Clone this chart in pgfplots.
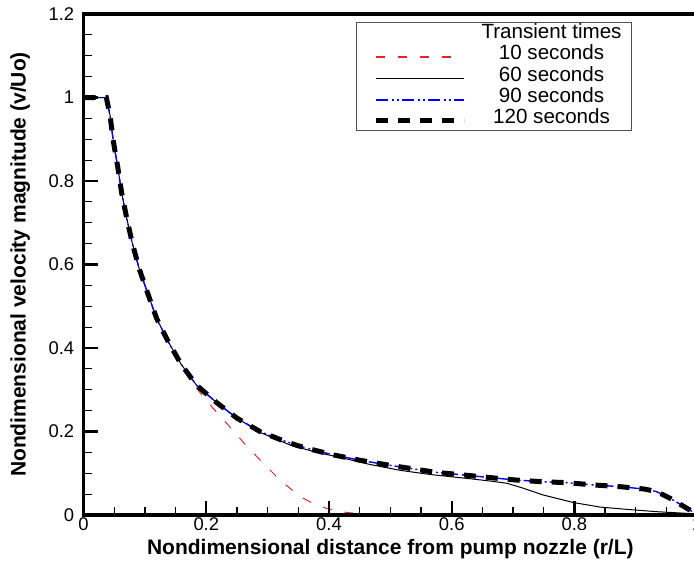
\documentclass[border=0pt]{standalone}
\usepackage{fontspec}
\setmainfont{Liberation Sans}
\usepackage{pgfplots}
\pgfplotsset{compat=1.18}
\definecolor{tenred}{RGB}{220,40,40}
\definecolor{ninetyblue}{RGB}{0,0,255}
\definecolor{legframe}{RGB}{80,80,80}

\begin{document}
\begin{tikzpicture}
\begin{axis}[
  scale only axis,
  width=306.75pt, height=250.5pt,
  xmin=0, xmax=1, ymin=0, ymax=1.2,
  xtick={0,0.2,0.4,0.6,0.8,1},
  ytick={0,0.2,0.4,0.6,0.8,1,1.2},
  minor x tick num=3, minor y tick num=3,
  xtick pos=bottom, ytick pos=left,
  tick align=inside,
  major tick length=7pt, minor tick length=4pt,
  tick style={black},
  every major tick/.append style={line width=1.1pt},
  every minor tick/.append style={line width=0.6pt},
  axis line style={line width=1.8pt},
  axis on top,
  /pgf/number format/assume math mode=true,
  tick label style={font=\fontsize{9.2}{11}\selectfont},
  xticklabel style={inner sep=0pt, yshift=-1.2pt},
  yticklabel style={inner sep=0pt, xshift=-4.5pt},
  every axis x label/.style={at={(axis description cs:0.5,-0.0798)}, anchor=base,
    inner sep=0pt, font=\bfseries\fontsize{10.5}{12}\selectfont},
  every axis y label/.style={at={(axis description cs:-0.0864,0.5)}, rotate=90,
    anchor=south, inner sep=0pt, font=\bfseries\fontsize{10.5}{12}\selectfont},
  xlabel={Nondimensional distance from pump nozzle (r/L)},
  ylabel={Nondimensional velocity magnitude (v/Uo)},
  legend cell align=center,
  legend image code/.code={\path (0pt,0pt); \draw[#1] (3.5pt,-1pt) -- (47.5pt,-1pt);},
  legend style={at={(axis description cs:0.894,0.984)}, anchor=north east,
    draw=legframe, line width=0.5pt, fill=white,
    inner xsep=5pt, inner ysep=0.5pt, row sep=0pt, column sep=7.4pt,
    font=\fontsize{10.3}{12}\selectfont,
    nodes={inner sep=0pt, text height=7.6pt, text depth=3pt}},
]
% legend: title row and one sample per series
\addlegendimage{empty legend}
\addlegendentry{Transient times}
\addlegendimage{draw=tenred, line width=0.9pt, dash pattern=on 4.5pt off 6.5pt}
\addlegendentry{10 seconds}
\addlegendimage{draw=black, line width=0.6pt}
\addlegendentry{60 seconds}
\addlegendimage{draw=ninetyblue, line width=0.9pt, dash pattern=on 6pt off 2pt on 1pt off 1.5pt on 1pt off 1.5pt}
\addlegendentry{90 seconds}
\addlegendimage{draw=black, line width=2.5pt, dash pattern=on 6pt off 5pt}
\addlegendentry{120 seconds}

% 10 seconds
\addplot[forget plot, draw=tenred, line width=0.5pt, dash pattern=on 4.5pt off 6.5pt] coordinates {
 (0,1.0) (0.037,1.0) (0.043,0.958) (0.0484,0.896) (0.0556,0.834) (0.0621,0.771)
 (0.0703,0.711) (0.0794,0.651) (0.0908,0.589) (0.1045,0.531) (0.119,0.471)
 (0.138,0.415) (0.159,0.361) (0.173,0.325) (0.190,0.293) (0.206,0.264)
 (0.233,0.220) (0.263,0.170) (0.290,0.128) (0.320,0.084) (0.353,0.044)
 (0.375,0.027) (0.396,0.016) (0.429,0.006) (0.460,0.002) (0.50,0.0) (1.0,0.0)
};

% 60 seconds
\addplot[forget plot, draw=black, line width=0.5pt] coordinates {
 (0,1.0) (0.037,1.0) (0.043,0.958) (0.0484,0.896) (0.0556,0.834) (0.0621,0.771)
 (0.0703,0.711) (0.0794,0.651) (0.0908,0.589) (0.1045,0.531) (0.119,0.471)
 (0.138,0.415) (0.159,0.361) (0.184,0.311) (0.217,0.269) (0.250,0.232)
 (0.2875,0.198) (0.336,0.168) (0.380,0.150) (0.418,0.138) (0.467,0.121)
 (0.516,0.107) (0.565,0.097) (0.597,0.092) (0.635,0.086) (0.665,0.081)
 (0.690,0.076) (0.717,0.064) (0.749,0.048) (0.798,0.030) (0.842,0.019)
 (0.885,0.0136) (0.934,0.008) (0.983,0.004) (1.0,0.0)
};

% 90 seconds
\addplot[forget plot, draw=ninetyblue, line width=0.7pt, dash pattern=on 6pt off 2pt on 1pt off 1.5pt on 1pt off 1.5pt] coordinates {
 (0,1.0) (0.037,1.0) (0.043,0.958) (0.0484,0.896) (0.0556,0.834) (0.0621,0.771)
 (0.0703,0.711) (0.0794,0.651) (0.0908,0.589) (0.1045,0.531) (0.119,0.471)
 (0.138,0.415) (0.159,0.361) (0.184,0.311) (0.217,0.269) (0.250,0.232)
 (0.2875,0.200) (0.320,0.181) (0.347,0.167) (0.369,0.158) (0.407,0.144)
 (0.451,0.131) (0.491,0.121) (0.535,0.111) (0.5755,0.102) (0.619,0.096)
 (0.660,0.090) (0.703,0.084) (0.744,0.080) (0.7875,0.0775) (0.831,0.072)
 (0.874,0.068) (0.915,0.062) (0.934,0.056) (0.956,0.040) (0.988,0.012) (1.0,0.0)
};

% 120 seconds
\addplot[forget plot, draw=black, line width=2.5pt, dash pattern=on 6pt off 5pt] coordinates {
 (0,1.0) (0.037,1.0) (0.043,0.958) (0.0484,0.896) (0.0556,0.834) (0.0621,0.771)
 (0.0703,0.711) (0.0794,0.651) (0.0908,0.589) (0.1045,0.531) (0.119,0.471)
 (0.138,0.415) (0.159,0.361) (0.184,0.311) (0.217,0.269) (0.250,0.232)
 (0.2875,0.200) (0.320,0.181) (0.347,0.167) (0.369,0.158) (0.407,0.144)
 (0.451,0.131) (0.491,0.121) (0.535,0.111) (0.5755,0.102) (0.619,0.096)
 (0.660,0.090) (0.703,0.084) (0.744,0.080) (0.7875,0.0775) (0.831,0.072)
 (0.874,0.068) (0.915,0.062) (0.934,0.056) (0.956,0.040) (0.988,0.012) (1.0,0.0)
};
\end{axis}
\pgfresetboundingbox
\path[use as bounding box] (-41.8pt,-24.5pt) rectangle (305.2pt,257.5pt);
\end{tikzpicture}
\end{document}
